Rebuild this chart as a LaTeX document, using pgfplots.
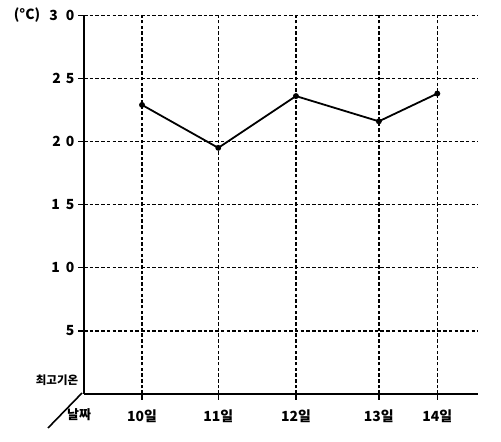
\documentclass[border=0pt]{standalone}
\usepackage{fontspec}
\setmainfont{Noto Sans CJK KR}
\usepackage{pgfplots}
\pgfplotsset{compat=1.18}
\begin{document}
\begin{tikzpicture}[x=1bp,y=1bp]
\useasboundingbox (0,0) rectangle (501,442);
\begin{axis}[
  at={(84bp,48bp)}, anchor=south west,
  scale only axis, width=394bp, height=378.7bp,
  xmin=9.216, xmax=14.54, ymin=0, ymax=30,
  axis lines=left, axis line style={-, line width=1.8bp, black},
  xtick={10,11.03,12.08,13.2,13.99},
  xticklabels={10일,11일,12일,13일,14일},
  ytick={5,10,15,20,25,30},
  yticklabels={5,1\hspace{6bp}0,1\hspace{6bp}5,2\hspace{5bp}0,2\hspace{5bp}5,3\hspace{8bp}0},
  grid=major, grid style={dash pattern=on 3.5bp off 2.2bp, line width=1.4bp, black},
  tick align=outside, major tick length=6bp,
  tick style={black, line width=1.4bp},
  x tick label style={yshift=-6bp, font=\bfseries\fontsize{14}{14}\selectfont},
  y tick label style={font=\bfseries\fontsize{14}{14}\selectfont},
  clip=false,
]
\addplot[black, line width=1.8bp, mark=*, mark size=2bp]
  coordinates {(10,22.9)(11.03,19.5)(12.08,23.6)(13.2,21.6)(13.99,23.8)};
\end{axis}
\draw[line width=1.6bp] (82,49) -- (48,14);
\node[font=\bfseries\fontsize{14}{14}\selectfont] at (27,427) {(°C)};
\node[font=\bfseries\fontsize{11.5}{11.5}\selectfont] at (57,62) {최고기온};
\node[font=\bfseries\fontsize{13}{13}\selectfont] at (79,27) {날짜};
\end{tikzpicture}
\end{document}
